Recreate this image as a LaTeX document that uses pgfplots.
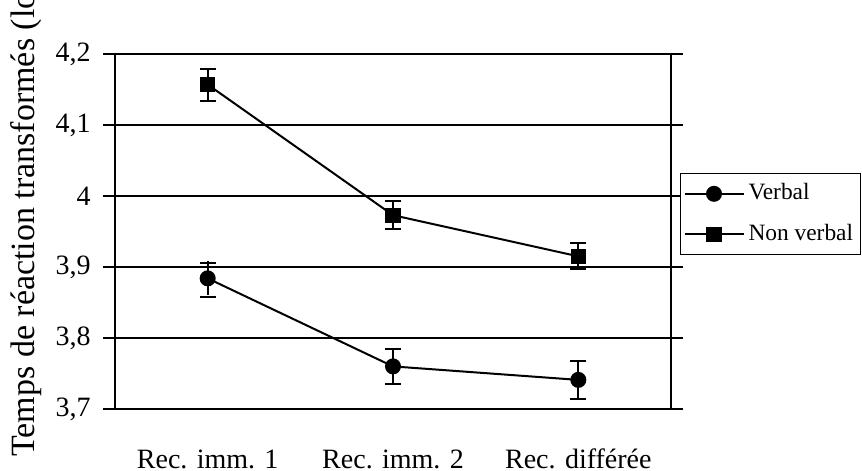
\documentclass[border=0pt]{standalone}
\usepackage{pgfplots}
\pgfplotsset{compat=1.18}
\usepackage{fontspec}
\setmainfont{Liberation Serif}
\begin{document}
\fontsize{14}{17}\selectfont
\begin{tikzpicture}
\begin{axis}[
  at={(0,0)}, anchor=south west,
  scale only axis, width=278pt, height=177.5pt,
  xmin=0.5, xmax=3.5, ymin=3.7, ymax=4.2,
  xtick={1,2,3}, xticklabels={Rec. imm. 1, Rec. imm. 2, Rec. différée},
  minor xtick={0.5,1.5,2.5,3.5},
  ytick={3.7,3.8,3.9,4.0,4.1,4.2},
  /pgf/number format/assume math mode=true,
  yticklabel style={/pgf/number format/fixed, /pgf/number format/use comma, /pgf/number format/precision=1},
  tick align=outside,
  major tick length=6pt,
  xtick style={draw=none},
  minor tick length=6pt,
  tick style={black, line width=0.7pt},
  axis line style={line width=0.8pt},
  ymajorgrids, grid style={black, line width=0.6pt},
  xticklabel style={anchor=base, yshift=-23.5pt},
  yticklabel style={xshift=-1.3pt},
  ylabel={Temps de réaction transformés (log)},
  ylabel style={at={(axis description cs:-0.1439,-0.135)}, anchor=base west, inner sep=0pt, font=\fontsize{17}{20}\selectfont},
  legend style={at={(axis description cs:1.016,0.6648)}, anchor=north west, draw=black, line width=0.6pt, inner xsep=1.5pt, inner ysep=3pt, row sep=6pt, font=\fontsize{11.7}{14}\selectfont, legend cell align=left, /tikz/every even column/.append style={column sep=3pt}},
  legend image code/.code={\draw[mark repeat=2, mark phase=2, line width=1pt] plot coordinates {(0pt,0pt) (14.75pt,0pt) (29.5pt,0pt)};},
  clip=false,
]
\addplot[black, line width=1pt, mark=*, mark size=3.5pt,
  error bars/.cd, y dir=both, y explicit, error bar style={line width=1pt, black}, error mark=none]
  coordinates {(1,3.884) +- (0,0.024) (2,3.760) +- (0,0.025) (3,3.741) +- (0,0.027)};
\addlegendentry{Verbal}
\addplot[black, line width=1pt, mark=square*, mark size=3.3pt,
  error bars/.cd, y dir=both, y explicit, error bar style={line width=1pt, black}, error mark=none]
  coordinates {(1,4.157) +- (0,0.022) (2,3.973) +- (0,0.020) (3,3.915) +- (0,0.018)};
\addlegendentry{Non verbal}
% error bar caps
\addplot[forget plot, only marks, mark=-, mark size=4pt, mark options={line width=1pt, black}]
  coordinates {(1,3.906) (1,3.858) (2,3.785) (2,3.735) (3,3.768) (3,3.714)
               (1,4.179) (1,4.134) (2,3.993) (2,3.953) (3,3.934) (3,3.897)};
\end{axis}
\pgfresetboundingbox
\useasboundingbox (-57.5pt,-31pt) rectangle (373.5pt,204.5pt);
\end{tikzpicture}
\end{document}
